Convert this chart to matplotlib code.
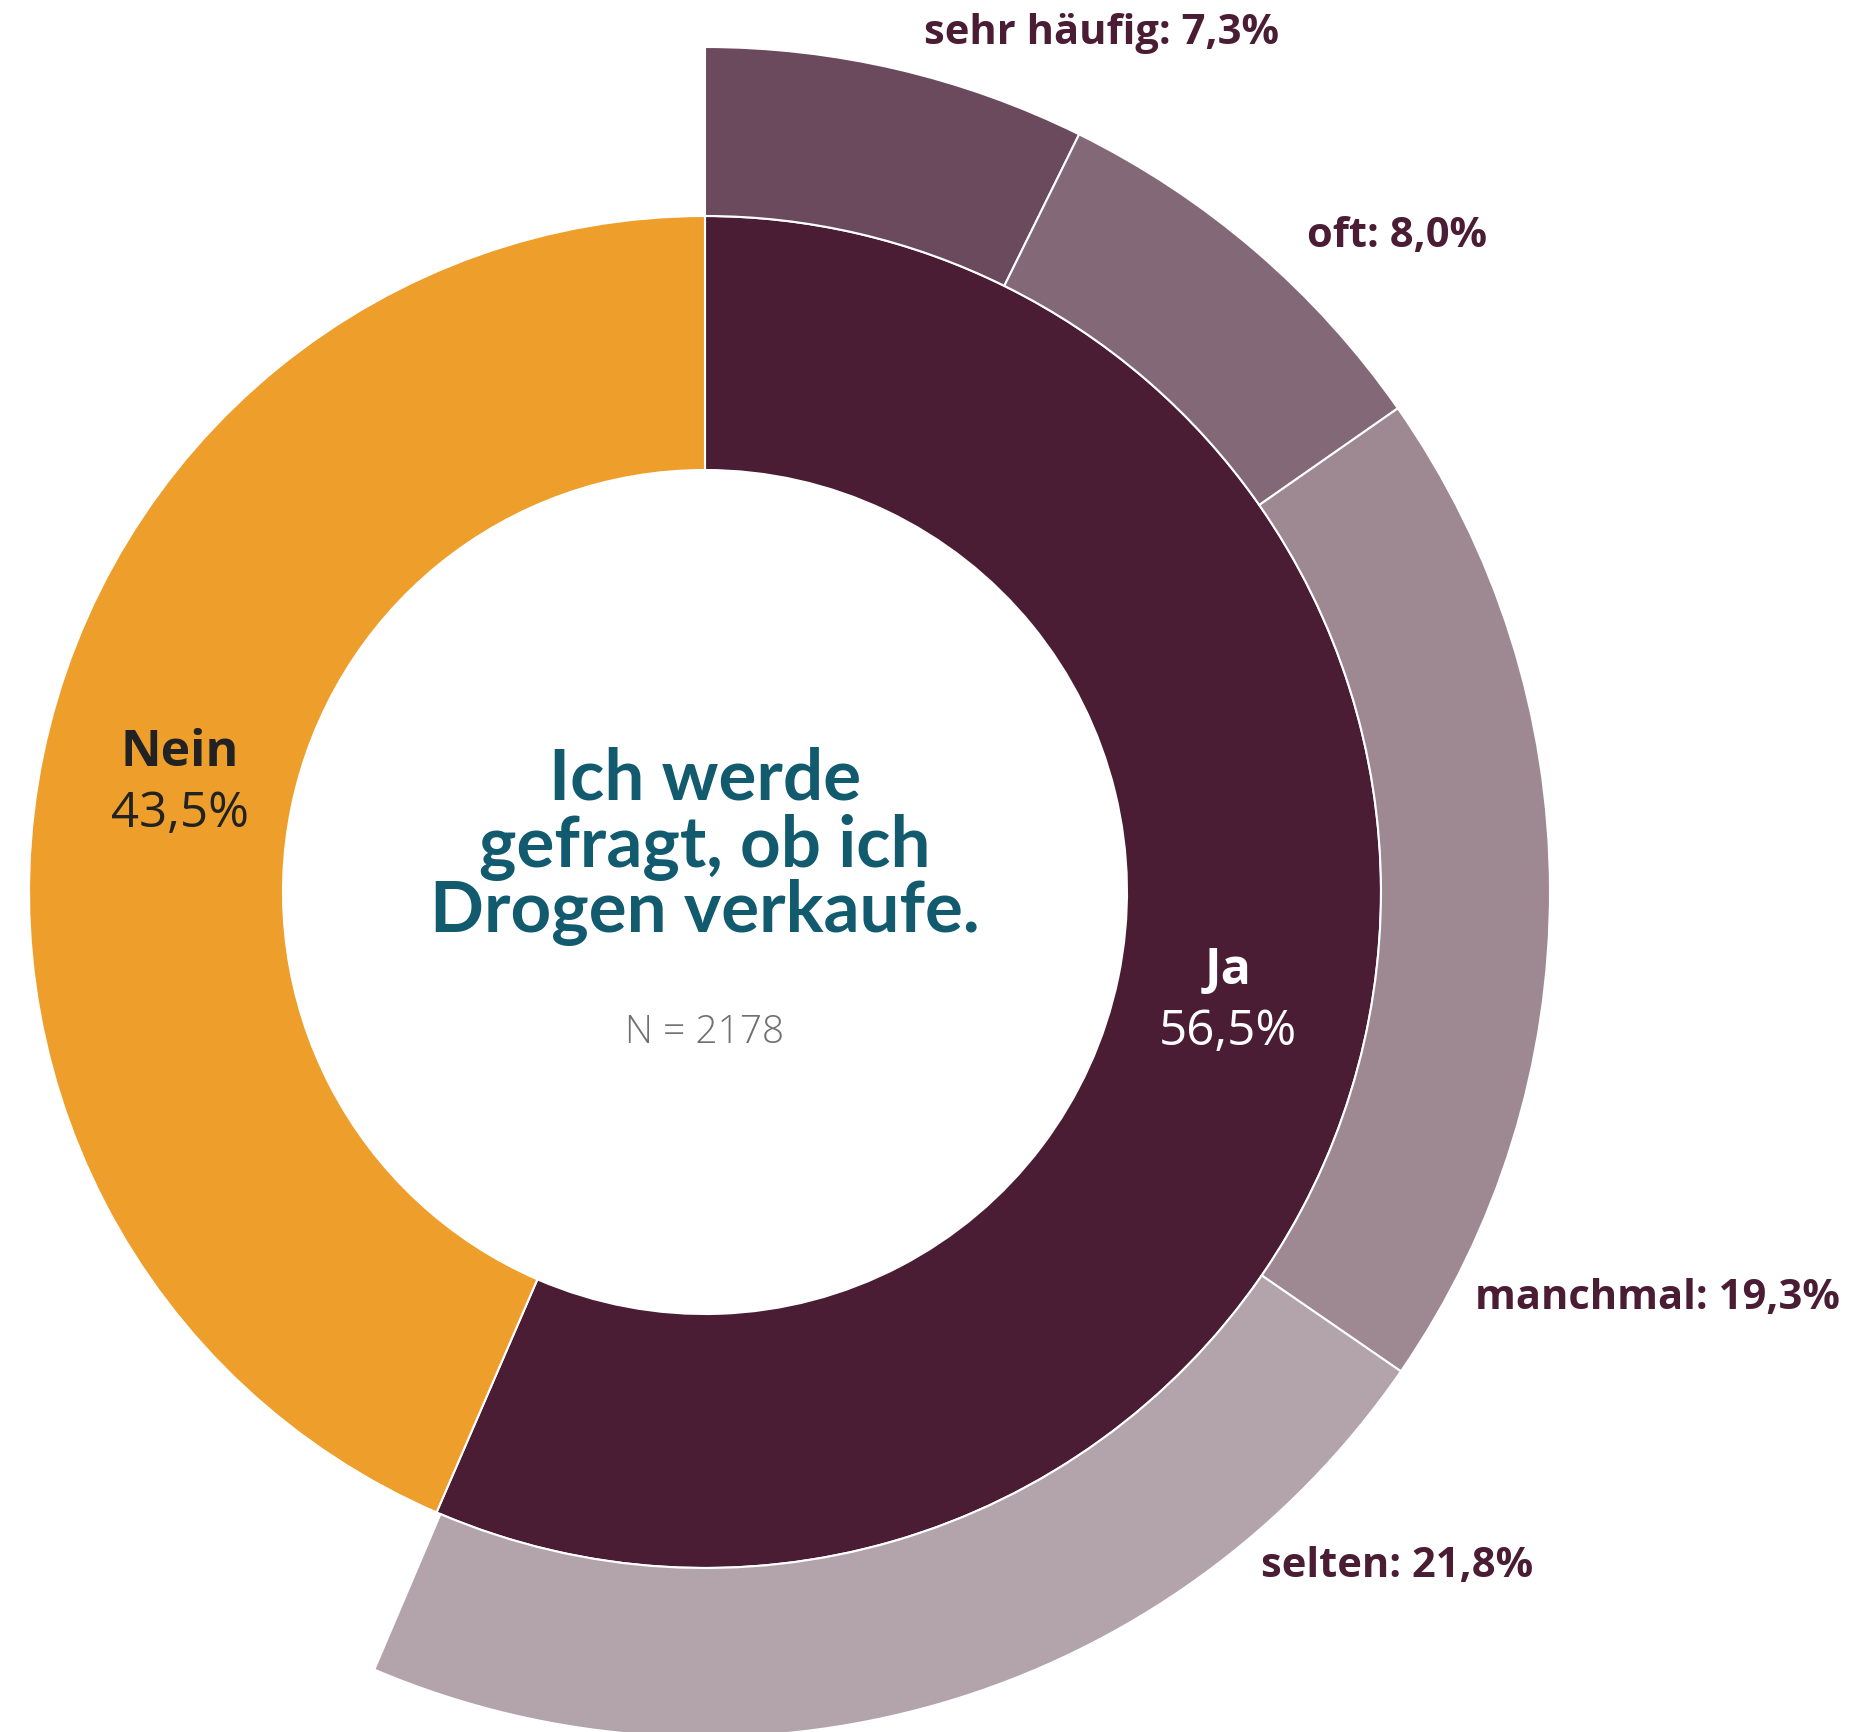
import matplotlib.pyplot as plt

# answers: asked whether I sell drugs
inner_labels = ["Ja", "Nein"]
inner_values = [56.5, 43.5]

outer_labels = ["sehr häufig", "oft", "manchmal", "selten"]
outer_values = [7.3, 8.0, 19.3, 21.8]

title_lines = ["Ich werde", "gefragt, ob ich", "Drogen verkaufe."]
n_total = 2178

W, H = 1852, 1732
CX, CY = 705, 892          # ring centre in pixel coords (y from top)
R_HOLE, R_INNER, R_OUTER = 422, 676, 845

inner_colors = ["#4a1d35", "#ee9e2b"]
outer_colors = ["#6b4a5d", "#836977", "#9e8891", "#b3a3ab"]
label_color = "#4a1d35"


def fmt(v):
    return f"{v:.1f}%".replace(".", ",")


def py(y):
    # pixel row -> data y
    return H - y


fig = plt.figure(figsize=(W / 100, H / 100), dpi=100)
ax = fig.add_axes([0, 0, 1, 1])

ax.pie([v / 100 for v in inner_values], colors=inner_colors, startangle=90,
       counterclock=False, normalize=False, radius=R_INNER, center=(CX, py(CY)),
       wedgeprops=dict(width=R_INNER - R_HOLE, edgecolor="white", linewidth=1.5))
ax.pie([v / 100 for v in outer_values], colors=outer_colors, startangle=90,
       counterclock=False, normalize=False, radius=R_OUTER, center=(CX, py(CY)),
       wedgeprops=dict(width=R_OUTER - R_INNER, edgecolor="white", linewidth=1.5))

ax.set_xlim(0, W)
ax.set_ylim(0, H)
ax.set_aspect("equal")
ax.axis("off")

# outer ring labels
outer_pos = [(1101, 33), (1397, 237), (1657, 1299), (1397, 1566)]
for name, v, (x, y) in zip(outer_labels, outer_values, outer_pos):
    ax.text(x, py(y), f"{name}: {fmt(v)}", ha="center", va="center",
            fontsize=30, fontweight="bold", family="Open Sans", color=label_color)

# inner ring labels
inner_pos = [(1228, 971), (180, 753)]
inner_text = ["white", "#222222"]
for name, v, (x, y), c in zip(inner_labels, inner_values, inner_pos, inner_text):
    ax.text(x, py(y), name, ha="center", va="center", fontsize=36,
            fontweight="bold", family="Open Sans", color=c)
    ax.text(x, py(y + 61), fmt(v), ha="center", va="center", fontsize=35.5,
            family="Open Sans", color=c)

# centre title
for line, yb in zip(title_lines, [800, 867, 932]):
    ax.text(CX, py(yb), line, ha="center", va="baseline", fontsize=51,
            fontweight="bold", family="Lato", color="#125a6e")

ax.text(CX, py(1033), f"N = {n_total}", ha="center", va="center", fontsize=28,
        family="Open Sans", fontweight="light", color="#707070")

fig.savefig("out.png", dpi=100, facecolor="white")
